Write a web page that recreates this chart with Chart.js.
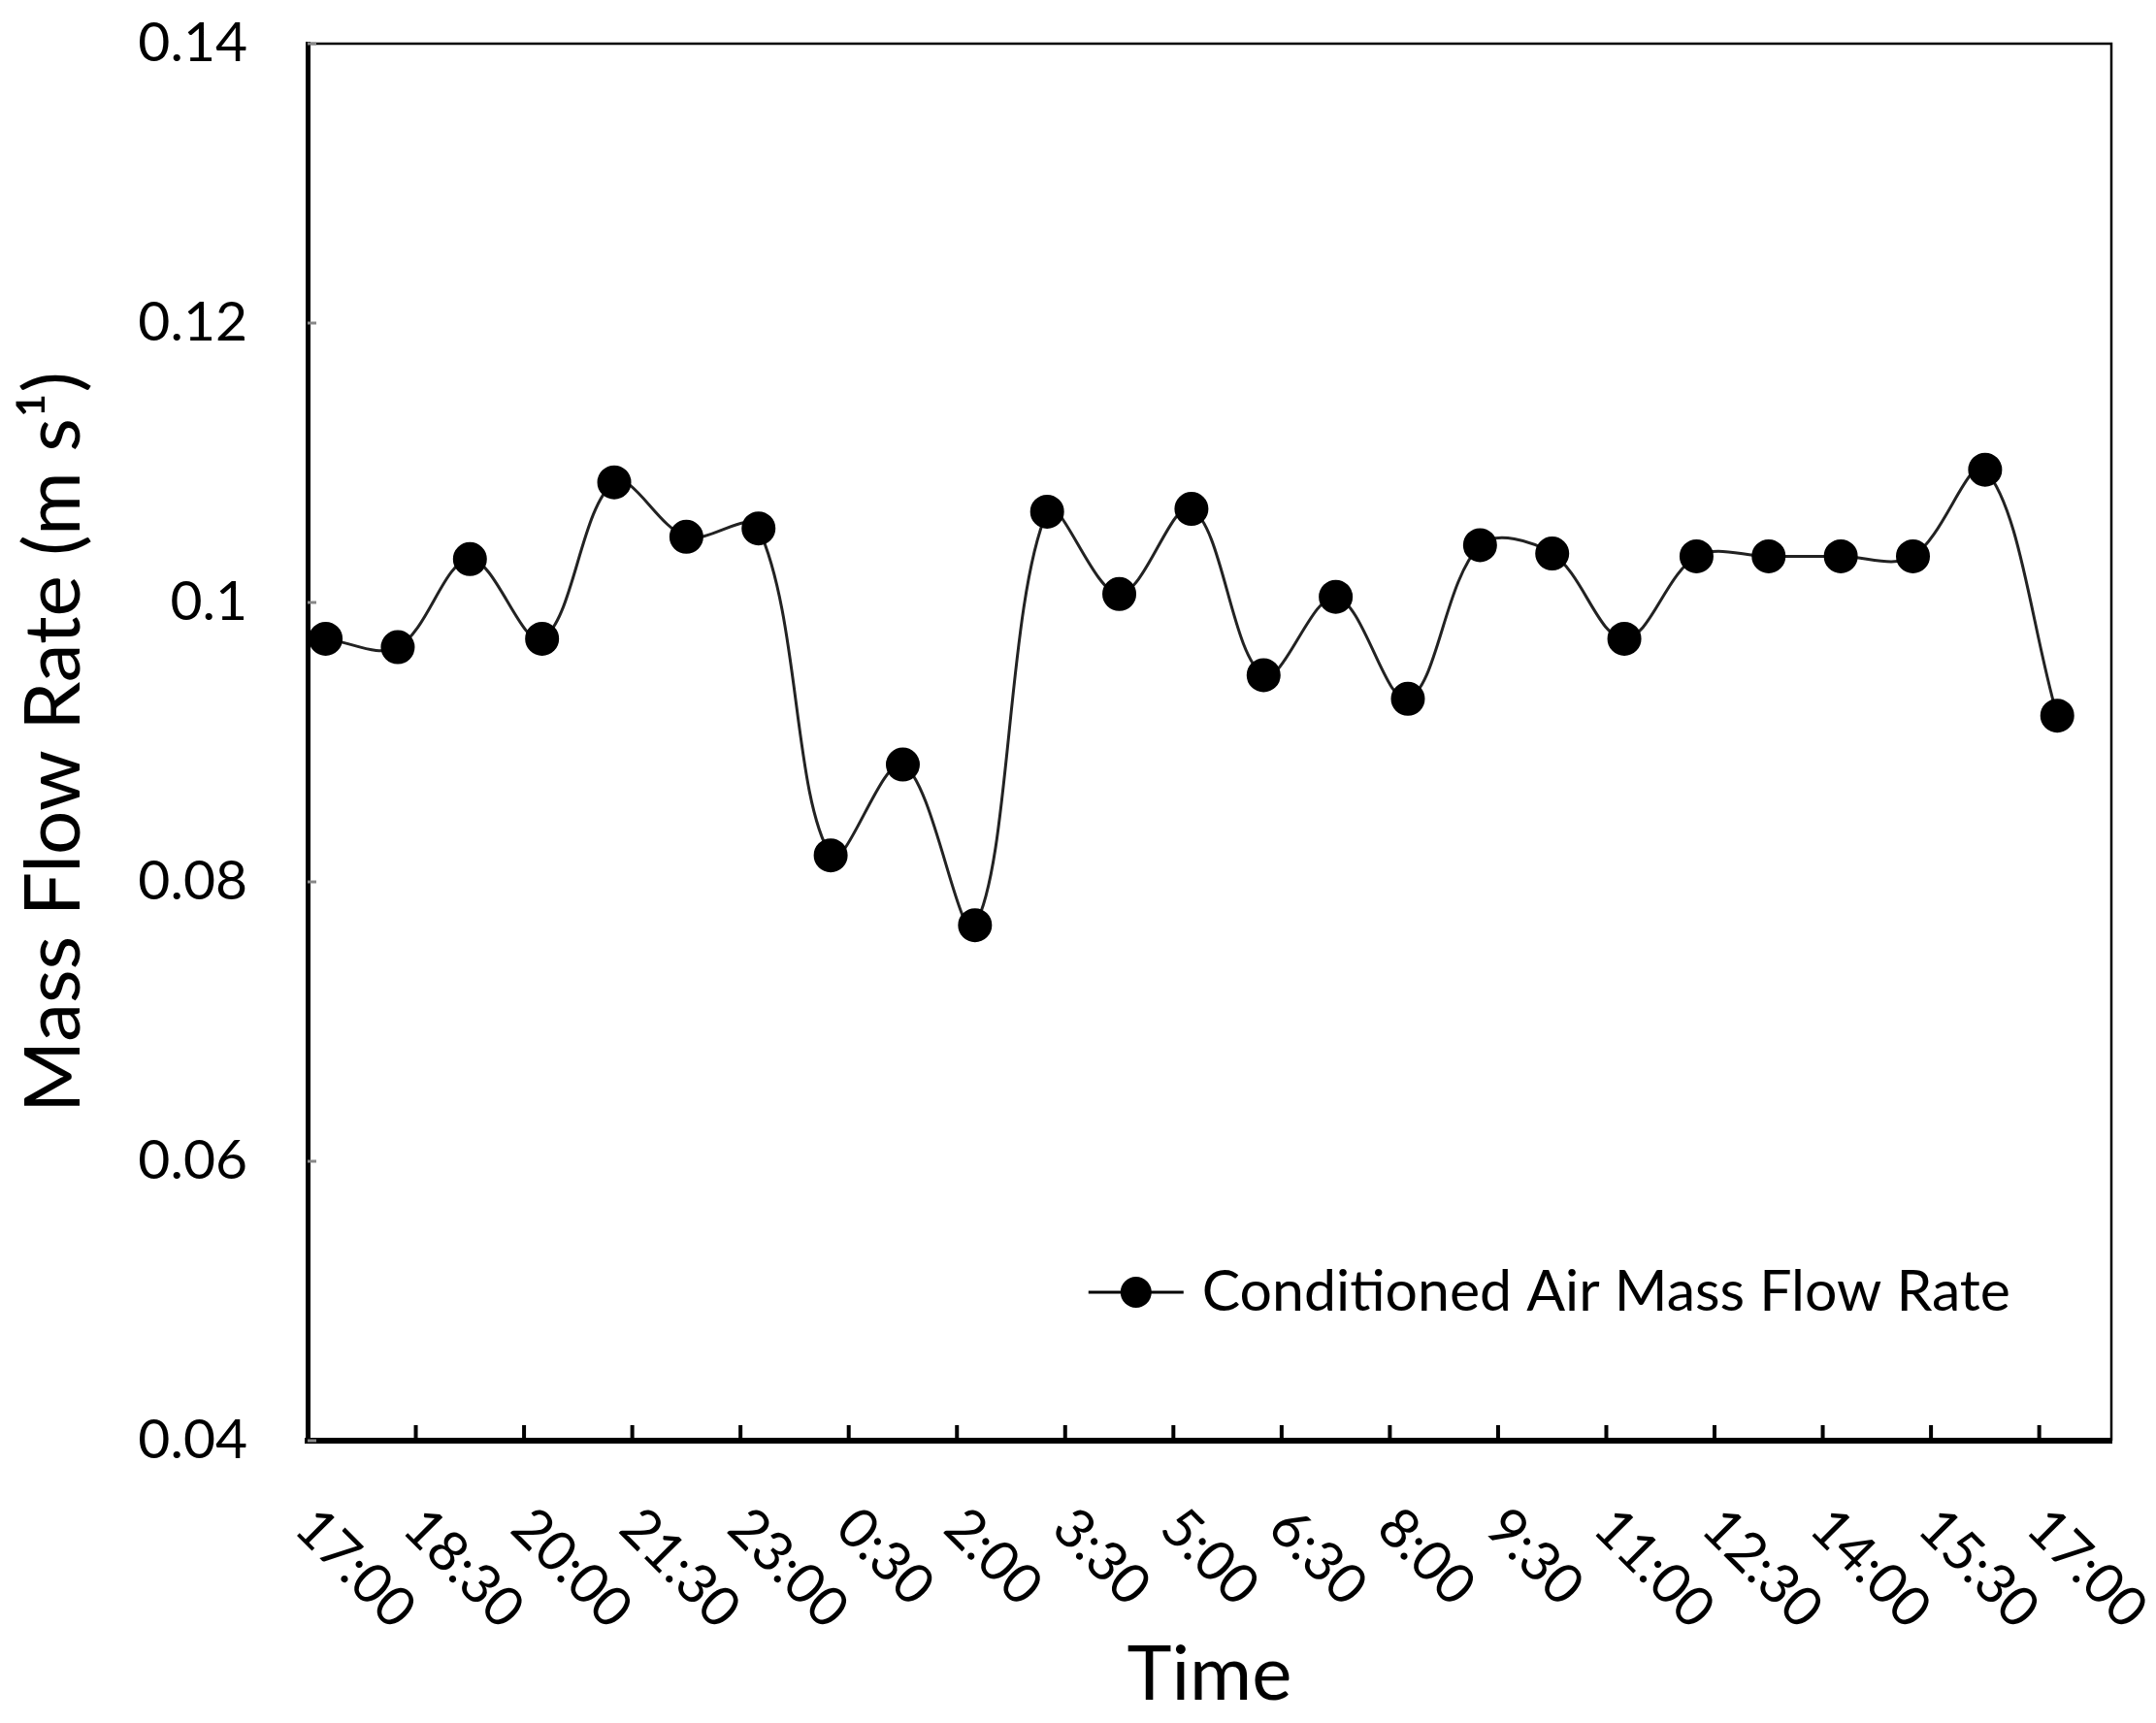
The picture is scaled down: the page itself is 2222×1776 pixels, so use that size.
<!DOCTYPE html>
<html>
<head>
  <meta charset="utf-8" />
  <title>Conditioned Air Mass Flow Rate</title>
  <script src="https://cdn.jsdelivr.net/npm/chart.js"></script>
  <style>
    body { margin: 0; background: #fff; }
  </style>
</head>
<body>
  <canvas id="chart" width="2222" height="1776"></canvas>

  <script>
    // Hours after 17:00 at which each reading was taken
    const sampleHours = [0.25, 1.25, 2.25, 3.25, 4.25, 5.25, 6.25, 7.25, 8.25, 9.25,
      10.25, 11.25, 12.25, 13.25, 14.25, 15.25, 16.25, 17.25, 18.25, 19.25,
      20.25, 21.25, 22.25, 23.25, 24.25];

    // Conditioned air mass flow rate readings
    const flowRate = [0.0974, 0.0968, 0.1031, 0.0974, 0.1086, 0.1047, 0.1053, 0.0819, 0.0884, 0.0769,
      0.1065, 0.1006, 0.1067, 0.0948, 0.1004, 0.0931, 0.1041, 0.1035, 0.0974, 0.1033,
      0.1033, 0.1033, 0.1033, 0.1095, 0.0919];

    // x axis ticks (hours after 17:00) and their labels
    const tickHours = [0, 1.5, 3, 4.5, 6, 7.5, 9, 10.5, 12, 13.5, 15, 16.5, 18, 19.5, 21, 22.5, 24];
    const tickLabels = ['17:00', '18:30', '20:00', '21:30', '23:00', '0:30', '2:00', '3:30', '5:00',
      '6:30', '8:00', '9:30', '11:00', '12:30', '14:00', '15:30', '17:00'];

    const fontName = 'Lato, "Liberation Sans", sans-serif';
    const tickSize = 57;

    // inward tick marks, thin top/right frame, slanted x labels and the legend
    const framePlugin = {
      id: 'framePlugin',
      afterDraw(chart) {
        const ctx = chart.ctx;
        const a = chart.chartArea;
        const x = chart.scales.x;
        const y = chart.scales.y;
        ctx.save();

        // top and right border
        ctx.strokeStyle = '#000';
        ctx.lineWidth = 2.5;
        ctx.beginPath();
        ctx.moveTo(a.left, a.top);
        ctx.lineTo(a.right, a.top);
        ctx.lineTo(a.right, a.bottom);
        ctx.stroke();

        // x ticks pointing up into the plot
        ctx.lineWidth = 4;
        x.ticks.forEach(t => {
          const px = x.getPixelForValue(t.value);
          if (px <= a.left + 2) return;
          ctx.beginPath();
          ctx.moveTo(px, a.bottom);
          ctx.lineTo(px, a.bottom - 16);
          ctx.stroke();
        });

        // y ticks pointing right into the plot
        ctx.strokeStyle = '#888';
        ctx.lineWidth = 3;
        y.ticks.forEach(t => {
          const py = y.getPixelForValue(t.value);
          ctx.beginPath();
          ctx.moveTo(a.left, py);
          ctx.lineTo(a.left + 9, py);
          ctx.stroke();
        });

        // x labels slanted down to the right
        ctx.fillStyle = '#000';
        ctx.font = tickSize + 'px ' + fontName;
        ctx.textAlign = 'left';
        ctx.textBaseline = 'middle';
        x.ticks.forEach((t, i) => {
          const px = x.getPixelForValue(t.value);
          ctx.save();
          ctx.translate(px - 3, a.bottom + 80);
          ctx.rotate(Math.PI / 4);
          ctx.fillText(tickLabels[i], 0, 0);
          ctx.restore();
        });

        // legend inside the plot, bottom right
        const ds = chart.data.datasets[0];
        ctx.font = '59px ' + fontName;
        const textW = ctx.measureText(ds.label).width;
        const textX = a.right - 104 - textW;
        const ly = a.bottom - 153;
        ctx.strokeStyle = '#000';
        ctx.lineWidth = 3;
        ctx.beginPath();
        ctx.moveTo(textX - 117, ly);
        ctx.lineTo(textX - 19, ly);
        ctx.stroke();
        ctx.beginPath();
        ctx.arc(textX - 68, ly, 16, 0, Math.PI * 2);
        ctx.fill();
        ctx.fillText(ds.label, textX, ly);

        ctx.restore();
      }
    };

    const points = sampleHours.map((h, i) => ({ x: h, y: flowRate[i] }));

    const ctx = document.getElementById('chart').getContext('2d');
    new Chart(ctx, {
      type: 'line',
      data: {
        datasets: [{
          label: 'Conditioned Air Mass Flow Rate',
          data: points,
          borderColor: '#222',
          borderWidth: 3,
          backgroundColor: '#000',
          pointBackgroundColor: '#000',
          pointBorderColor: '#000',
          pointRadius: 16,
          tension: 0.35,
          clip: false
        }]
      },
      options: {
        responsive: false,
        animation: false,
        events: [],
        layout: { padding: { top: 45, right: 46, left: 0, bottom: 0 } },
        plugins: {
          legend: { display: false },
          tooltip: { enabled: false }
        },
        scales: {
          x: {
            type: 'linear',
            min: 0,
            max: 25,
            afterBuildTicks: scale => { scale.ticks = tickHours.map(v => ({ value: v })); },
            afterFit: scale => {
              scale.height = 291;
              scale.paddingLeft = 0;
              scale.paddingRight = 0;
            },
            grid: { display: false, drawTicks: false },
            border: { display: true, color: '#000', width: 6 },
            ticks: { display: false },
            title: {
              display: true,
              text: 'Time',
              color: '#000',
              font: { family: fontName, size: 78 },
              padding: { top: 0, bottom: 2 }
            }
          },
          y: {
            min: 0.04,
            max: 0.14,
            afterFit: scale => {
              scale.width = 317;
              scale.paddingTop = 0;
              scale.paddingBottom = 0;
            },
            grid: { display: false, drawTicks: false },
            border: { display: true, color: '#000', width: 5 },
            ticks: {
              stepSize: 0.02,
              padding: 62,
              color: '#000',
              font: { family: fontName, size: tickSize },
              callback: v => String(+v.toFixed(2))
            },
            title: {
              display: true,
              text: 'Mass Flow Rate (m s\u00b9)',
              color: '#000',
              font: { family: fontName, size: 80 },
              padding: { top: 8, bottom: 0 }
            }
          }
        }
      },
      plugins: [framePlugin]
    });
  </script>
</body>
</html>
